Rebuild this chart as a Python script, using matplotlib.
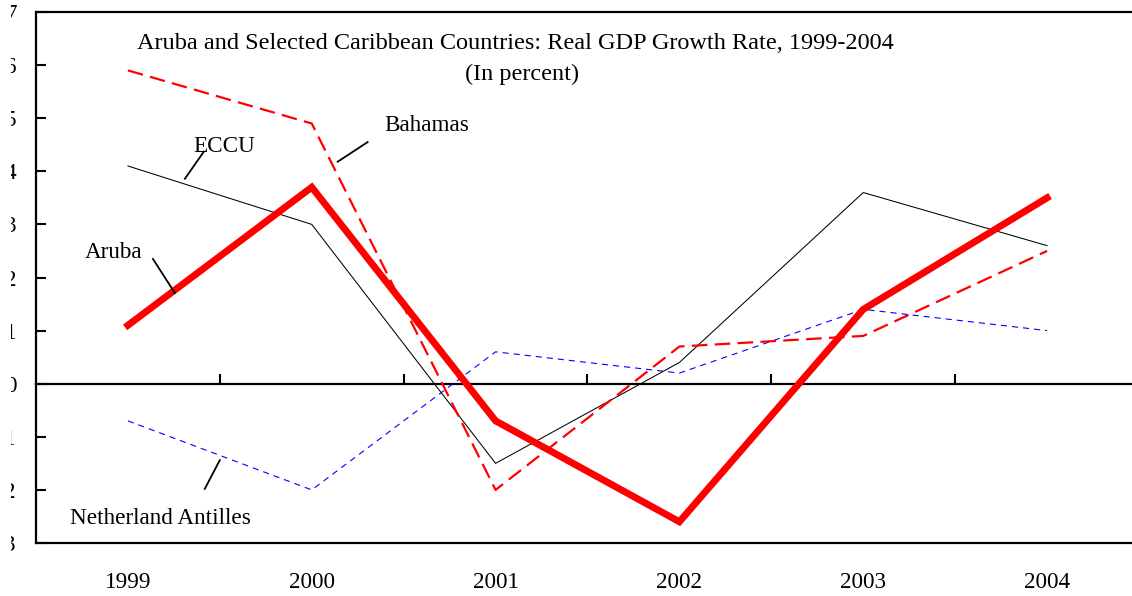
import numpy as np
import matplotlib.pyplot as plt
from matplotlib.transforms import Bbox, TransformedBbox

plt.rcParams['font.family'] = ['Liberation Serif', 'DejaVu Serif']

years = ['1999', '2000', '2001', '2002', '2003', '2004']
aruba = [1.1, 3.7, -0.7, -2.6, 1.4, 3.5]
eccu = [4.1, 3.0, -1.5, 0.4, 3.6, 2.6]
bahamas = [5.9, 4.9, -2.0, 0.7, 0.9, 2.5]
neth_antilles = [-0.7, -2.0, 0.6, 0.2, 1.4, 1.0]

x = np.arange(len(years))

fig = plt.figure(figsize=(11.32, 5.96), dpi=100)
# right edge runs past the picture, as in the original
ax = fig.add_axes([36 / 1132, 53 / 596, 1103 / 1132, 531 / 596])

ax.plot(x, eccu, color='black', lw=0.75)
ax.plot(x, neth_antilles, color='#0000FF', lw=0.8, dashes=(5.5, 4.5))
ax.plot(x, bahamas, color='#FF0000', lw=1.6, dashes=(7, 3.3),
        dash_joinstyle='round', dash_capstyle='butt')
ax.plot(x, aruba, color='#FF0000', lw=5, solid_joinstyle='miter')

ax.set_xlim(-0.5, 5.5)
ax.set_ylim(-3, 7)
ax.set_yticks(range(-3, 8))
ax.set_xticks(x)
ax.set_xticklabels(years)
ax.tick_params(axis='x', length=0, pad=21, labelsize=16.7)
ax.tick_params(axis='y', direction='in', length=7, width=1.5, pad=14, labelsize=16.7)
for s in ax.spines.values():
    s.set_linewidth(1.6)

# y labels are cut at the left edge in the original
clip = TransformedBbox(Bbox([[11 / 1132, 0], [1, 1]]), fig.transFigure)
for lab in ax.get_yticklabels():
    lab.set_clip_on(True)
    lab.set_clip_box(clip)

# zero line with the category separators
zero = ax.secondary_xaxis(0.3)
zero.set_xticks(x[:-1] + 0.5)
zero.tick_params(direction='in', length=7, width=1.5, labelbottom=False, labeltop=False)
zero.spines['bottom'].set_linewidth(1.6)

fs = 16.7
ax.text(2.11, 6.40, 'Aruba and Selected Caribbean Countries: Real GDP Growth Rate, 1999-2004',
        ha='center', va='center', fontsize=17.5)
ax.text(2.145, 5.83, '(In percent)', ha='center', va='center', fontsize=17.5)

labels = [('ECCU', (0.522, 4.47), (0.413, 4.37), (0.310, 3.86)),
          ('Bahamas', (1.625, 4.87), (1.304, 4.55), (1.141, 4.18)),
          ('Aruba', (-0.076, 2.48), (0.136, 2.35), (0.255, 1.71)),
          ('Netherland Antilles', (0.179, -2.53), (0.500, -1.44), (0.418, -1.98))]
for name, pos, p0, p1 in labels:
    ax.text(pos[0], pos[1], name, ha='center', va='center', fontsize=fs)
    ax.plot([p0[0], p1[0]], [p0[1], p1[1]], color='black', lw=1.3)

fig.savefig('out.png', dpi=100)
